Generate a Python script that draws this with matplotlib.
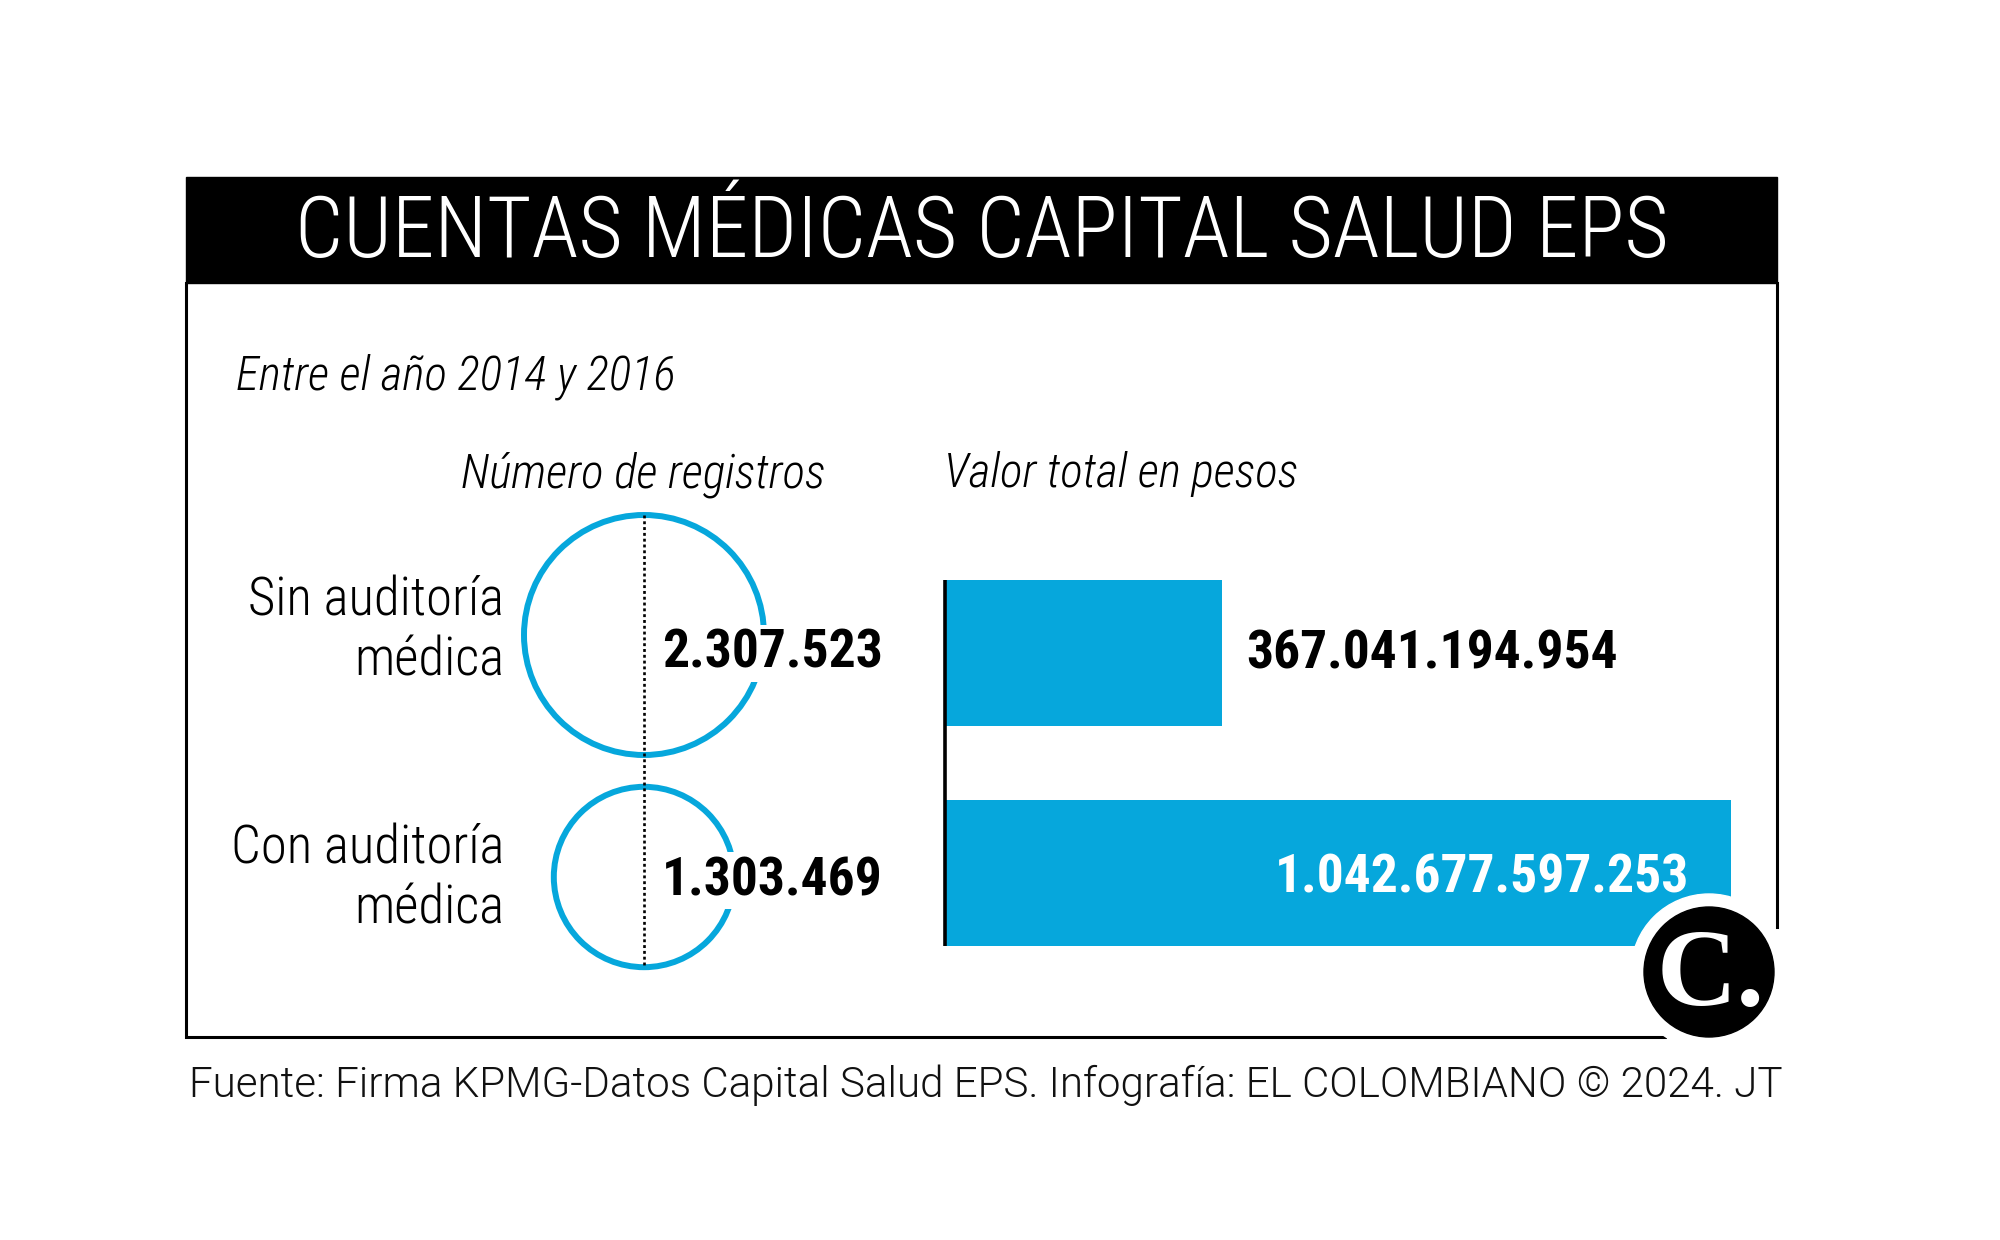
import numpy as np
import matplotlib
matplotlib.use('Agg')
import matplotlib.pyplot as plt
from matplotlib.patches import Circle, Rectangle

"""
Cuentas medicas Capital Salud EPS: circulos (registros) y barras (pesos)
"""

categorias = ['Sin auditoría\nmédica', 'Con auditoría\nmédica']
registros = [2307523, 1303469]
registros_txt = ['2.307.523', '1.303.469']
pesos = [367041194954, 1042677597253]
pesos_txt = ['367.041.194.954', '1.042.677.597.253']

titulo = 'CUENTAS MÉDICAS CAPITAL SALUD EPS'
subtitulo = 'Entre el año 2014 y 2016'
col_izq = 'Número de registros'
col_der = 'Valor total en pesos'
fuente = 'Fuente: Firma KPMG-Datos Capital Salud EPS. Infografía: EL COLOMBIANO © 2024. JT'

azul = '#06a7dc'
cond = 'Roboto Condensed'
W, H = 2000, 1240

fig = plt.figure(figsize=(W / 100, H / 100), dpi=100)
ax = fig.add_axes([0, 0, 1, 1])
ax.set_xlim(0, W)
ax.set_ylim(H, 0)
ax.axis('off')
ax.set_zorder(2)

# marco y franja del titulo (el marco se corta donde va el logo)
fx0, fx1, fy0, fy1 = 186, 1777, 283, 1037
ax.add_patch(Rectangle((fx0, 177), fx1 - fx0, fy0 - 177, color='black', zorder=2))
ax.plot([1665, fx0, fx0], [fy1, fy1, fy0], color='black', lw=2.2,
        solid_joinstyle='miter', zorder=2)
ax.plot([fx1, fx1], [fy0, 927], color='black', lw=2.2, zorder=2)
ax.text((fx0 + fx1) / 2, 257, titulo, color='white', fontsize=61.5,
        family=cond, weight=300, ha='center', va='baseline', zorder=3)

ax.text(236, 389, subtitulo, fontsize=34, family=cond, weight=300,
        style='italic', ha='left', va='baseline')
ax.text(643, 487, col_izq, fontsize=34, family=cond, weight=300,
        style='italic', ha='center', va='baseline')
ax.text(944, 487, col_der, fontsize=34, family=cond, weight=300,
        style='italic', ha='left', va='baseline')

# circulos: area proporcional al numero de registros
k = 120 / np.sqrt(max(registros))
cx = 644
cys = [635, 877]
num_base = [668, 895]
lab_off = [-4, 2]
radios = [k * np.sqrt(v) for v in registros]
for cy, r, nb, lo, txt, lab in zip(cys, radios, num_base, lab_off,
                                   registros_txt, categorias):
    ax.add_patch(Circle((cx, cy), r, fill=False, ec=azul, lw=4.3, zorder=3))
    ax.text(662, nb, txt, fontsize=38.5, family=cond, weight=700,
            ha='left', va='baseline', zorder=5,
            bbox=dict(fc='white', ec='none', pad=2))
    ax.text(504, cy + lo, lab, fontsize=38, family=cond, weight=300,
            ha='right', va='center', linespacing=1.2)
ax.plot([cx, cx], [cys[0] - radios[0], cys[1] + radios[1]], color='black',
        lw=1.9, ls=(0, (1.1, 1.1)), zorder=4)

# barras: valor total en pesos
xb0, xb1 = 945, 1731
px = (xb1 - xb0) / max(pesos)
xmax = 1.1 * max(pesos)
axb = fig.add_axes([xb0 / W, 1 - 983 / H, xmax * px / W, 440 / H])
axb.set_zorder(1)
axb.set_xlim(0, xmax)
axb.set_ylim(1.5, -0.5)
axb.axis('off')
alto = 0.664
pos = np.arange(len(pesos))
axb.barh(pos, pesos, height=alto, color=azul, zorder=2)
axb.plot([0, 0], [-alto / 2, len(pesos) - 1 + alto / 2], color='black',
         lw=2.6, zorder=3, solid_capstyle='butt', clip_on=False)
axb.annotate(pesos_txt[0], (pesos[0], 0), xytext=(18, -11),
             textcoords='offset points', fontsize=38.5, family=cond,
             weight=700, ha='left', va='baseline')
axb.annotate(pesos_txt[1], (pesos[1], 1), xytext=(-30, -14),
             textcoords='offset points', fontsize=38.5, family=cond,
             weight=700, ha='right', va='baseline', color='white')

# logo
ax.add_patch(Circle((1709, 972), 78, color='white', zorder=6))
ax.add_patch(Circle((1709, 972), 65, color='black', zorder=7))
ax.text(1711, 978, 'C.', color='white', fontsize=80, family='Liberation Serif',
        weight='bold', ha='center', va='center', zorder=8)

ax.text(189, 1097, fuente, fontsize=30.3, family='Roboto', weight=300,
        ha='left', va='baseline', color='#111111')

fig.savefig('out.png', dpi=100)
